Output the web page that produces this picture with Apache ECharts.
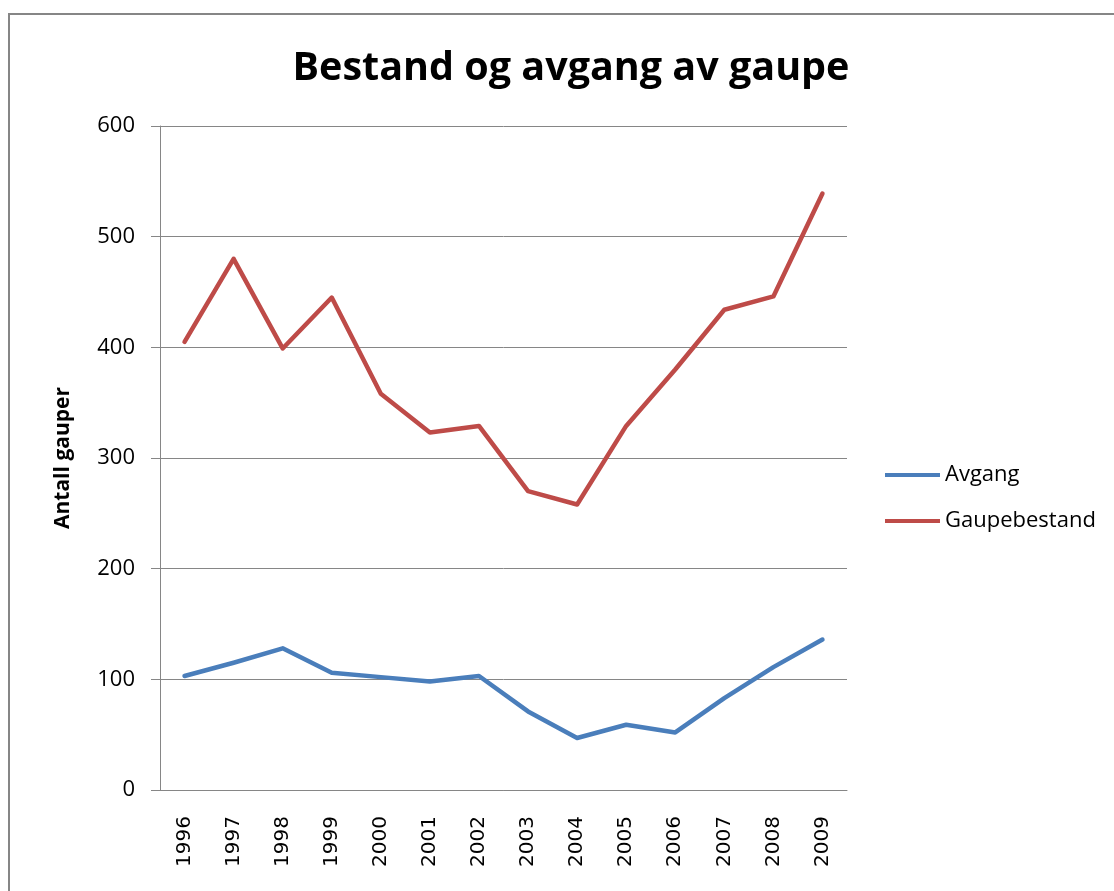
<!DOCTYPE html>
<html>
<head>
<meta charset="utf-8">
<style>
  html, body { margin: 0; padding: 0; background: #fff; }
  #chart { width: 1114px; height: 891px; }
</style>
<script src="https://cdn.jsdelivr.net/npm/echarts@6/dist/echarts.min.js"></script>
</head>
<body>
<div id="chart"></div>
<script>
const years = ['1996', '1997', '1998', '1999', '2000', '2001', '2002',
  '2003', '2004', '2005', '2006', '2007', '2008', '2009']
const avgang = [103, 115, 128, 106, 102, 98, 103, 71, 47, 59, 52, 83, 111, 136]
const gaupebestand = [405, 480, 399, 445, 358, 323, 329, 270, 258, 329, 380, 434, 446, 539]
const yTicks = [0, 100, 200, 300, 400, 500, 600]

const chart = echarts.init(document.getElementById('chart'))

const lineSeries = (name, data, color) => ({
  name: name,
  type: 'line',
  data: data,
  showSymbol: false,
  symbol: 'none',
  lineStyle: { color: color, width: 4.5, cap: 'round', join: 'round' },
  itemStyle: { color: color },
  animation: false
})

chart.setOption({
  backgroundColor: '#fff',
  title: {
    text: 'Bestand og avgang av gaupe',
    left: 566,
    top: 44,
    textAlign: 'center',
    textStyle: { fontFamily: 'Open Sans', fontWeight: 'bold', fontSize: 39.5, color: '#000' }
  },
  graphic: [{
    type: 'rect',
    shape: { x: 9, y: 14, width: 1120, height: 900 },
    style: { fill: 'none', stroke: '#868686', lineWidth: 2 },
    silent: true
  }],
  legend: {
    orient: 'vertical',
    left: 880,
    top: 459,
    itemWidth: 55,
    itemHeight: 4,
    itemGap: 24,
    icon: 'rect',
    textStyle: { fontFamily: 'Open Sans', fontSize: 22, color: '#000' },
    data: ['Avgang', 'Gaupebestand']
  },
  grid: { left: 160, right: 267, top: 126, bottom: 101 },
  xAxis: {
    type: 'category',
    data: years,
    boundaryGap: true,
    axisLine: { lineStyle: { color: '#868686', width: 1 } },
    axisTick: { show: false },
    axisLabel: {
      rotate: 90,
      margin: 26,
      fontFamily: 'DejaVu Sans',
      fontSize: 20,
      color: '#000'
    }
  },
  yAxis: {
    type: 'value',
    min: yTicks[0],
    max: yTicks[yTicks.length - 1],
    interval: 100,
    name: 'Antall gauper',
    nameLocation: 'middle',
    nameGap: 86,
    nameTextStyle: { fontFamily: 'Open Sans', fontWeight: 'bold', fontSize: 21, color: '#000' },
    axisLine: { show: true, lineStyle: { color: '#868686', width: 1 } },
    axisTick: { show: true, inside: false, length: 9, lineStyle: { color: '#868686' } },
    axisLabel: { fontFamily: 'Open Sans', fontSize: 22, color: '#000', margin: 25 },
    splitLine: { show: true, lineStyle: { color: '#868686', width: 1 } }
  },
  series: [
    lineSeries('Avgang', avgang, '#4A7EBB'),
    lineSeries('Gaupebestand', gaupebestand, '#BE4B48')
  ]
})
</script>
</body>
</html>
